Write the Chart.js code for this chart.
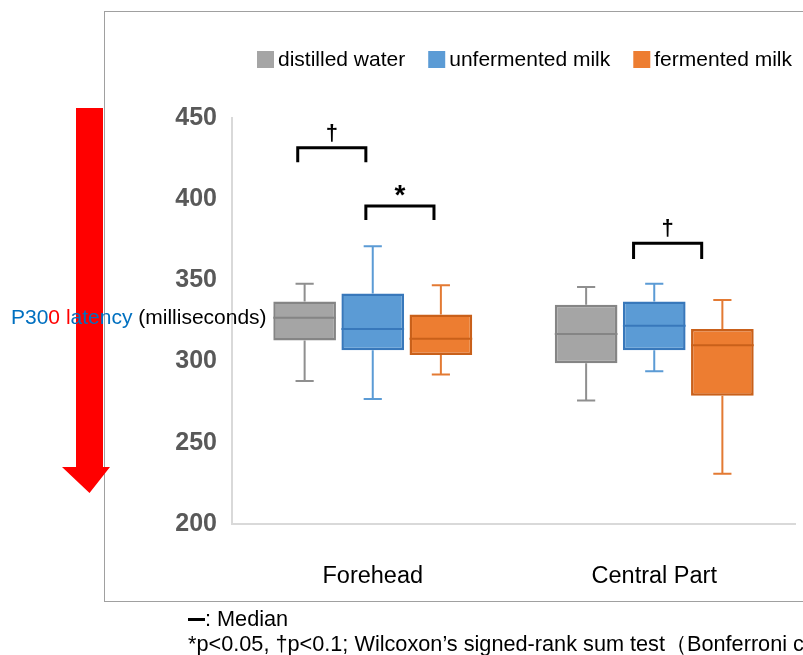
<!DOCTYPE html>
<html>
<head>
<meta charset="utf-8">
<script src="https://cdn.jsdelivr.net/npm/chart.js@4.4.1/dist/chart.umd.min.js"></script>
<style>
  html, body { margin: 0; padding: 0; background: #fff; }
  #wrap { width: 803px; height: 655px; }
</style>
</head>
<body>
<div id="wrap"><canvas id="boxes"></canvas></div>
<script>
var categories = ["Forehead", "Central Part"];
var seriesNames = ["distilled water", "unfermented milk", "fermented milk"];

// min, q1, median, q3, max for each category
var waterStats = [[288, 313, 327, 337, 348], [276, 299, 317, 335, 346]];
var plainMilkStats = [[277, 307, 320, 342, 371], [294, 307, 322, 337, 348]];
var fermentedStats = [[292, 304, 314, 329, 347], [231, 279, 310, 320, 338]];

var yTicks = [200, 250, 300, 350, 400, 450];

var allStats = [waterStats, plainMilkStats, fermentedStats];
var fills = ['#a5a5a5', '#5b9bd5', '#ed7d31'];
var edges = ['#858585', '#3878bb', '#c9601a'];
var whiskers = ['#8f8f8f', '#5b9bd5', '#e37a33'];

// significance brackets: category, left series, right series, bracket top, leg end, shift (box widths), mark
var sigMarks = [
    {cat: 0, from: 0, to: 1, top: 431.7, leg: 422.8, shift: -0.11, mark: '†'},
    {cat: 0, from: 1, to: 2, top: 395.8, leg: 387.2, shift: -0.11, mark: '*'},
    {cat: 1, from: 1, to: 2, top: 372.9, leg: 363.2, shift: -0.33, mark: '†'}
];

var FONT = '"Liberation Sans", Arial, sans-serif';

var datasets = allStats.map(function (stats, i) {
    return {
        label: seriesNames[i],
        data: stats.map(function (s) { return [s[1], s[3]]; }),
        backgroundColor: fills[i],
        borderColor: edges[i],
        borderWidth: 2.5,
        borderSkipped: false,
        categoryPercentage: 0.726,
        barPercentage: 0.92
    };
});

var boxExtras = {
    id: 'boxExtras',
    beforeDraw: function (chart) {
        var ctx = chart.ctx;
        ctx.save();
        ctx.fillStyle = '#ffffff';
        ctx.fillRect(0, 0, chart.width, chart.height);
        ctx.strokeStyle = '#a0a0a0';
        ctx.lineWidth = 1;
        ctx.strokeRect(104.5, 11.5, 760, 590);
        ctx.restore();
    },
    beforeDatasetsDraw: function (chart) {
        var ctx = chart.ctx, y = chart.scales.y;
        ctx.save();
        ctx.lineWidth = 2;
        allStats.forEach(function (stats, di) {
            var meta = chart.getDatasetMeta(di);
            meta.data.forEach(function (bar, i) {
                var s = stats[i];
                var cap = bar.width * 0.145;
                ctx.strokeStyle = whiskers[di];
                ctx.beginPath();
                ctx.moveTo(bar.x, y.getPixelForValue(s[3]));
                ctx.lineTo(bar.x, y.getPixelForValue(s[4]));
                ctx.moveTo(bar.x - cap, y.getPixelForValue(s[4]));
                ctx.lineTo(bar.x + cap, y.getPixelForValue(s[4]));
                ctx.moveTo(bar.x, y.getPixelForValue(s[1]));
                ctx.lineTo(bar.x, y.getPixelForValue(s[0]));
                ctx.moveTo(bar.x - cap, y.getPixelForValue(s[0]));
                ctx.lineTo(bar.x + cap, y.getPixelForValue(s[0]));
                ctx.stroke();
            });
        });
        ctx.restore();
    },
    afterDatasetsDraw: function (chart) {
        var ctx = chart.ctx, y = chart.scales.y;
        ctx.save();
        ctx.lineWidth = 2;
        allStats.forEach(function (stats, di) {
            var meta = chart.getDatasetMeta(di);
            meta.data.forEach(function (bar, i) {
                var my = y.getPixelForValue(stats[i][2]);
                ctx.strokeStyle = edges[di];
                ctx.beginPath();
                ctx.moveTo(bar.x - bar.width / 2, my);
                ctx.lineTo(bar.x + bar.width / 2, my);
                ctx.stroke();
            });
        });
        // brackets
        ctx.strokeStyle = '#000';
        ctx.fillStyle = '#000';
        ctx.lineWidth = 3;
        ctx.lineJoin = 'miter';
        sigMarks.forEach(function (m) {
            var b1 = chart.getDatasetMeta(m.from).data[m.cat];
            var b2 = chart.getDatasetMeta(m.to).data[m.cat];
            var x1 = b1.x + m.shift * b1.width;
            var x2 = b2.x + m.shift * b2.width;
            var yt = y.getPixelForValue(m.top), yl = y.getPixelForValue(m.leg);
            ctx.beginPath();
            ctx.moveTo(x1, yl);
            ctx.lineTo(x1, yt);
            ctx.lineTo(x2, yt);
            ctx.lineTo(x2, yl);
            ctx.stroke();
            ctx.textAlign = 'center';
            ctx.textBaseline = 'middle';
            if (m.mark === '*') {
                ctx.font = 'bold 28px ' + FONT;
                ctx.fillText(m.mark, (x1 + x2) / 2, yt - 10);
            } else {
                ctx.font = 'bold 22px ' + FONT;
                ctx.fillText(m.mark, (x1 + x2) / 2, yt - 14);
            }
        });
        ctx.restore();
    },
    afterDraw: function (chart) {
        var ctx = chart.ctx;
        ctx.save();
        // red arrow
        ctx.fillStyle = '#ff0000';
        ctx.beginPath();
        ctx.moveTo(76, 108);
        ctx.lineTo(103, 108);
        ctx.lineTo(103, 467);
        ctx.lineTo(110, 467);
        ctx.lineTo(89.5, 493);
        ctx.lineTo(62, 467);
        ctx.lineTo(76, 467);
        ctx.closePath();
        ctx.fill();

        // y axis title in colored pieces
        var parts = [['P30', '#0070c0'], ['0 l', '#ff0000'], ['atency', '#0070c0'], [' (milliseconds)', '#000000']];
        ctx.font = '21px ' + FONT;
        ctx.textBaseline = 'middle';
        ctx.textAlign = 'left';
        var tx = 11;
        parts.forEach(function (p) {
            ctx.fillStyle = p[1];
            ctx.fillText(p[0], tx, 318);
            tx += ctx.measureText(p[0]).width;
        });

        // legend
        var lx = 257;
        chart.data.datasets.forEach(function (ds, i) {
            ctx.fillStyle = ds.backgroundColor;
            ctx.fillRect(lx, 51, 17, 17);
            ctx.fillStyle = '#000';
            ctx.fillText(ds.label, lx + 21, 60);
            lx += 21 + ctx.measureText(ds.label).width + 23;
        });

        // footnotes
        ctx.font = '21.7px ' + FONT;
        ctx.fillStyle = '#000';
        ctx.fillRect(188, 618, 17, 3);
        ctx.fillText(': Median', 205, 620);
        ctx.fillText('*p<0.05, \u2020p<0.1; Wilcoxon\u2019s signed-rank sum test\uff08Bonferroni correction\uff09', 188, 645);
        ctx.restore();
    }
};

var chart = new Chart(document.getElementById('boxes'), {
    type: 'bar',
    data: { labels: categories, datasets: datasets },
    options: {
        responsive: true,
        maintainAspectRatio: false,
        animation: false,
        layout: { padding: { top: 118, right: 8, bottom: 71, left: 0 } },
        plugins: {
            legend: { display: false },
            tooltip: { enabled: false }
        },
        scales: {
            x: {
                grid: { display: false },
                border: { display: true, color: '#d9d9d9', width: 2 },
                ticks: { color: '#000', font: { family: FONT, size: 23.5 }, padding: 30 },
                afterFit: function (scale) { scale.height = 60; }
            },
            y: {
                min: 200,
                max: 450,
                afterBuildTicks: function (scale) {
                    scale.ticks = yTicks.map(function (v) { return { value: v }; });
                },
                grid: { display: false },
                border: { display: true, color: '#d9d9d9', width: 2 },
                ticks: { color: '#595959', font: { family: FONT, size: 25, weight: 'bold' }, padding: 7 },
                afterFit: function (scale) { scale.width = 232; }
            }
        }
    },
    plugins: [boxExtras]
});
</script>
</body>
</html>
